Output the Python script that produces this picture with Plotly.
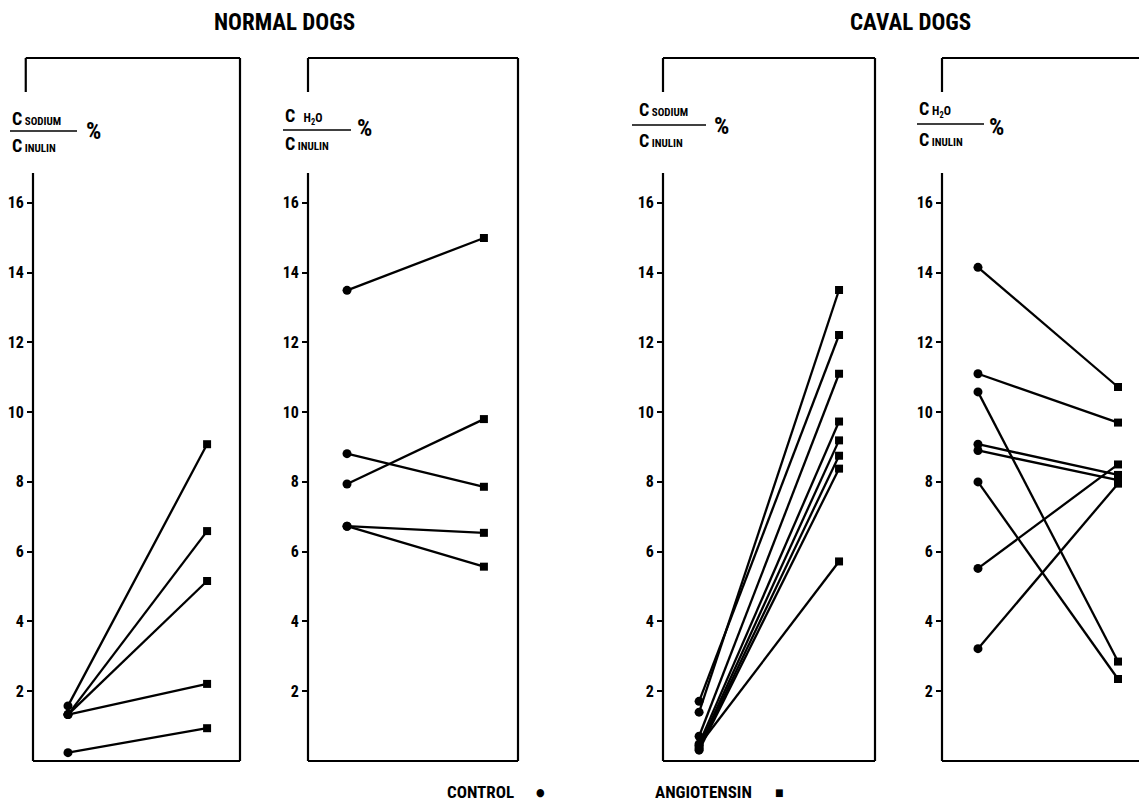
import plotly.graph_objects as go

# ---------------- data ----------------
conditions = ["CONTROL", "ANGIOTENSIN"]
tick_values = [2, 4, 6, 8, 10, 12, 14, 16]
tick_labels = ["2", "4", "6", "8", "10", "12", "14", "16"]

normal_sodium_control = [1.58, 1.33, 1.33, 1.33, 0.24]
normal_sodium_angio = [9.08, 6.59, 5.16, 2.21, 0.94]

normal_water_control = [13.49, 8.81, 7.94, 6.73, 6.73]
normal_water_angio = [14.99, 7.86, 9.80, 6.54, 5.57]

caval_sodium_control = [1.40, 1.71, 0.71, 0.49, 0.40, 0.35, 0.31, 0.45]
caval_sodium_angio = [13.50, 12.21, 11.10, 9.73, 9.19, 8.75, 8.38, 5.72]

caval_water_control = [14.15, 11.10, 10.58, 9.08, 8.90, 8.00, 5.52, 3.22]
caval_water_angio = [10.72, 9.70, 2.85, 8.20, 8.05, 2.35, 8.50, 7.95]

group_titles = ["NORMAL DOGS", "CAVAL DOGS"]

# ---------------- layout helpers ----------------
# page body has an 8px margin, so the figure is shrunk to fit the window
OFF = 8
FW, FH = 1147 - 2 * OFF, 809 - 2 * OFF
FONT = "Liberation Sans Narrow, Roboto Condensed, DejaVu Sans Condensed, Arial Narrow, Liberation Sans, sans-serif"


def px(x):
    return (x - OFF) / FW


def py(y):
    return (FH - (y - OFF)) / FH


Y_TOP, Y_BOT = 58, 761
panels = [
    (33, 240, [-0.2515, 1.2366], True, normal_sodium_control, normal_sodium_angio),
    (308, 518, [-0.285, 1.249], True, normal_water_control, normal_water_angio),
    (663, 875, [-0.258, 1.257], True, caval_sodium_control, caval_sodium_angio),
    (942, 1139, [-0.257, 1.150], False, caval_water_control, caval_water_angio),
]

fig = go.Figure()
shapes = []
annotations = []

gap_top = (Y_BOT - 92) / (Y_BOT - Y_TOP)
gap_bot = (Y_BOT - 173) / (Y_BOT - Y_TOP)

for i, (l, r, xr, right_border, ctrl, ang) in enumerate(panels):
    n = i + 1
    xa = "x" if n == 1 else f"x{n}"
    ya = "y" if n == 1 else f"y{n}"
    for c, a in zip(ctrl, ang):
        fig.add_trace(go.Scatter(
            x=[0, 1], y=[c, a], xaxis=xa, yaxis=ya,
            mode="lines+markers",
            line=dict(color="black", width=2.3),
            marker=dict(symbol=["circle", "square"], size=[9, 8], color="black",
                        opacity=1, line=dict(width=0)),
            opacity=1,
            showlegend=False, hoverinfo="skip",
        ))
    xkey = "xaxis" if n == 1 else f"xaxis{n}"
    ykey = "yaxis" if n == 1 else f"yaxis{n}"
    fig.layout[xkey] = dict(domain=[px(l), min(px(r), 1.0)], range=xr, visible=False,
                            anchor=ya)
    fig.layout[ykey] = dict(domain=[py(Y_BOT), py(Y_TOP)], range=[0, 20.15],
                            anchor=xa, showline=False, showgrid=False, zeroline=False,
                            tickvals=tick_values, ticktext=tick_labels,
                            ticks="outside", ticklen=5, tickwidth=1.5, tickcolor="black",
                            tickfont=dict(family=FONT, size=16, color="black", weight="bold"))
    xd = f"{xa} domain"
    yd = f"{ya} domain"
    line = dict(color="black", width=2.2)
    lx = -0.035 if n == 1 else 0
    shapes.append(dict(type="line", xref=xd, yref=yd, x0=lx, x1=1, y0=1, y1=1, line=line))
    shapes.append(dict(type="line", xref=xd, yref=yd, x0=0, x1=1, y0=0, y1=0, line=line))
    if right_border:
        shapes.append(dict(type="line", xref=xd, yref=yd, x0=1, x1=1, y0=0, y1=1, line=line))
    shapes.append(dict(type="line", xref=xd, yref=yd, x0=lx, x1=lx, y0=gap_top, y1=1, line=line))
    shapes.append(dict(type="line", xref=xd, yref=yd, x0=0, x1=0, y0=0, y1=gap_bot, line=line))

# ---------------- axis labels (fractions) ----------------
labels = [
    # numerator, x_left, y_num, y_line, y_den, line_x0, line_x1, pct_x, pct_y
    ("<b>C</b><b><span style='font-size:11px'> SODIUM</span></b>", 10, 118, 131, 145, 10, 77, 93, 131),
    ("<b>C</b><b><span style='font-size:12px'>   H<sub>2</sub>O</span></b>", 283, 116, 130, 143, 283, 351, 364, 128),
    ("<b>C</b><b><span style='font-size:11px'> SODIUM</span></b>", 637, 110, 125, 140, 632, 706, 721, 126),
    ("<b>C</b><b><span style='font-size:12px'> H<sub>2</sub>O</span></b>", 917, 109, 124, 139, 917, 984, 996, 127),
]
for num, xl, yn, yl, yden, lx0, lx1, pxx, pyy in labels:
    annotations.append(dict(text=num, x=px(xl), y=py(yn), xref="paper", yref="paper",
                            xanchor="left", yanchor="middle", showarrow=False,
                            font=dict(family=FONT, size=18, color="black")))
    annotations.append(dict(text="<b>C</b><b><span style='font-size:11px'> INULIN</span></b>",
                            x=px(xl), y=py(yden), xref="paper", yref="paper",
                            xanchor="left", yanchor="middle", showarrow=False,
                            font=dict(family=FONT, size=18, color="black")))
    shapes.append(dict(type="line", xref="paper", yref="paper", x0=px(lx0), x1=px(lx1),
                       y0=py(yl), y1=py(yl), line=dict(color="black", width=1.5)))
    annotations.append(dict(text="<b>%</b>", x=px(pxx), y=py(pyy), xref="paper", yref="paper",
                            xanchor="center", yanchor="middle", showarrow=False,
                            font=dict(family=FONT, size=24, color="black")))

# ---------------- group titles ----------------
for title, cx, cy in zip(group_titles, [284, 910], [23, 22]):
    annotations.append(dict(text="<b>" + title + "</b>", x=px(cx), y=py(cy), xref="paper", yref="paper",
                            xanchor="center", yanchor="middle", showarrow=False,
                            font=dict(family=FONT, size=23, color="black")))

# ---------------- legend text ----------------
for label, sym, sym_size, tx, sx in zip(conditions, ["\u25cf", "\u25a0"], [11, 10], [445, 653], [540, 779]):
    annotations.append(dict(text="<b>" + label + "</b>", x=px(tx), y=py(792),
                            xref="paper", yref="paper", xanchor="left", yanchor="middle",
                            showarrow=False, font=dict(family=FONT, size=17, color="black")))
    annotations.append(dict(text=sym, x=px(sx), y=py(792),
                            xref="paper", yref="paper", xanchor="center", yanchor="middle",
                            showarrow=False, font=dict(family=FONT, size=sym_size, color="black")))

fig.update_layout(
    width=FW, height=FH,
    margin=dict(l=0, r=0, t=0, b=0),
    paper_bgcolor="white", plot_bgcolor="white",
    shapes=shapes, annotations=annotations,
    showlegend=False,
)

fig.write_html("out.html")
